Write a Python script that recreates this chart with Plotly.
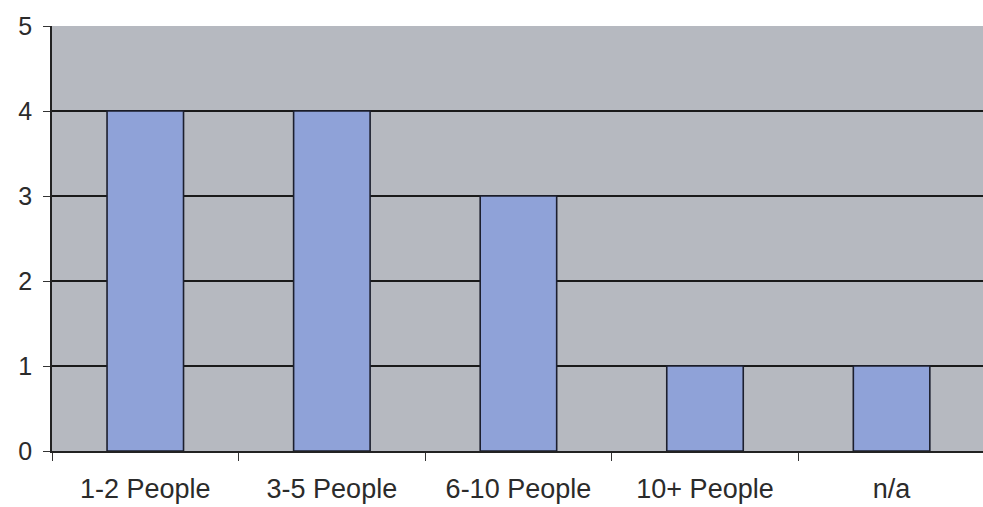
import plotly.graph_objects as go

categories = ["1-2 People", "3-5 People", "6-10 People", "10+ People", "n/a"]
counts = [4, 4, 3, 1, 1]
y_ticks = [0, 1, 2, 3, 4, 5]

fig = go.Figure(
    go.Bar(
        x=categories,
        y=counts,
        marker=dict(color="#8fa2d8", line=dict(color="#1c1f2e", width=1.6)),
        hoverinfo="skip",
    )
)

fig.update_layout(
    width=983,
    height=507,
    margin=dict(l=52, r=0, t=26, b=56),
    paper_bgcolor="white",
    plot_bgcolor="#b6b9c0",
    bargap=0.59,
    showlegend=False,
    font=dict(family="Liberation Sans, Arial, sans-serif", size=25, color="#2b2b2b"),
)

fig.update_xaxes(
    type="category",
    range=[-0.5, 4.49],
    tickson="boundaries",
    ticks="outside",
    ticklen=8,
    tickcolor="#333333",
    showline=True,
    linecolor="#222222",
    linewidth=1.5,
    showgrid=False,
    ticklabelstandoff=13,
    tickfont=dict(size=27),
)

fig.update_yaxes(
    range=[0, 5],
    tickvals=y_ticks,
    ticks="outside",
    ticklen=7,
    tickcolor="#333333",
    showline=True,
    linecolor="#222222",
    linewidth=1.5,
    showgrid=True,
    gridcolor="#1a1a1a",
    gridwidth=1.8,
    zeroline=False,
    ticklabelstandoff=6,
)

fig.write_html("out.html")
